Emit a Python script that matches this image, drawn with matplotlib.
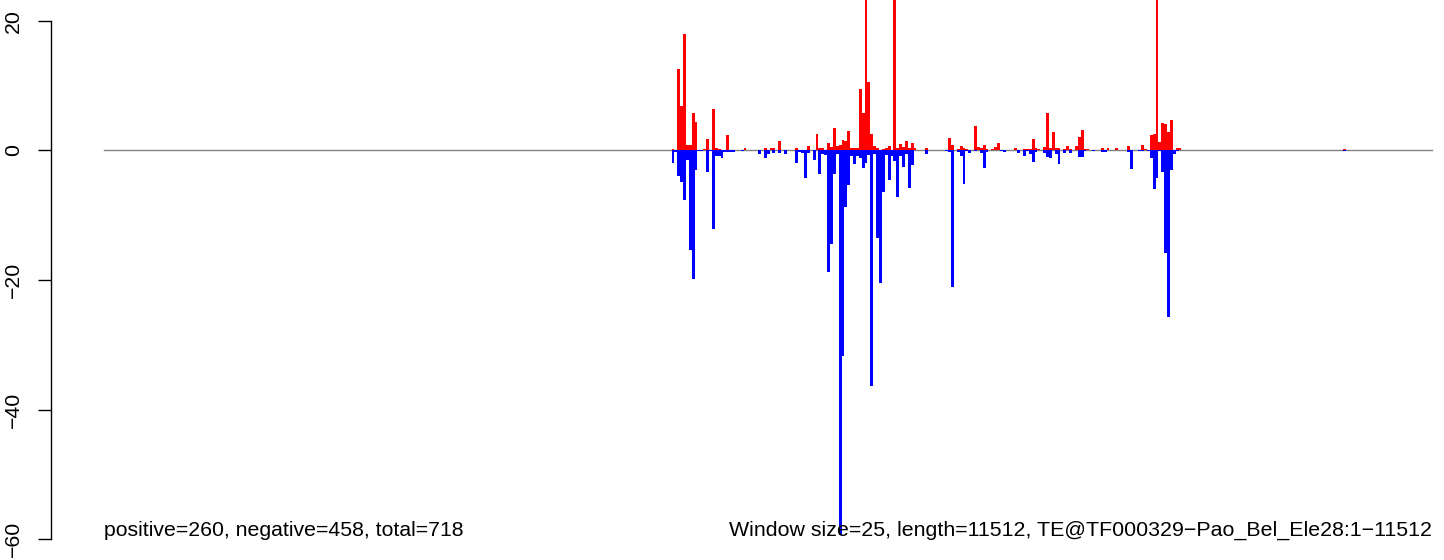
import numpy as np
import matplotlib.pyplot as plt

plt.rcParams['font.family'] = ['Liberation Sans', 'DejaVu Sans']

# window index (25 bp windows), positive-strand and negative-strand counts
window = [197, 198, 199, 200, 201, 202, 203, 204, 205, 206, 207, 208, 209, 210,
          211, 212, 213, 214, 215, 216, 217, 218, 221, 222, 223, 227, 228, 229,
          230, 231, 232, 233, 234, 235, 236, 240, 241, 242, 243, 244, 245, 246,
          247, 248, 249, 250, 251, 252, 253, 254, 255, 256, 257, 258, 259, 260,
          261, 262, 263, 264, 265, 266, 267, 268, 269, 270, 271, 272, 273, 274,
          275, 276, 277, 278, 279, 280, 281, 285, 292, 293, 294, 296, 297, 298,
          299, 300, 302, 303, 304, 305, 306, 308, 309, 310, 311, 312, 313, 314,
          316, 317, 319, 320, 321, 322, 323, 324, 326, 327, 328, 329, 330, 331,
          333, 334, 335, 337, 338, 339, 340, 341, 343, 346, 347, 348, 351, 354,
          355, 356, 359, 360, 361, 362, 363, 364, 365, 366, 367, 368, 369, 370,
          371, 372, 373, 430]
pos = [0.2, 0, 12.5, 6.8, 18.0, 0.9, 0.8, 5.8, 4.4, 0, 0, 0.15, 1.8, 0,
       6.4, 0.3, 0.2, 0, 0, 2.3, 0, 0, 0, 0.3, 0.1, 0, 0.1, 0.3,
       0, 0.4, 0.3, 0.1, 1.5, 0.1, 0, 0.3, 0, 0, 0.1, 0.7, 0.1, 0.1,
       2.6, 0.4, 0.4, 0.1, 1.1, 0.5, 3.4, 0.7, 0.8, 1.6, 1.5, 3.0, 0.3, 0.4,
       0.4, 9.5, 5.7, 31, 10.6, 2.6, 0.7, 0.3, 0.1, 0.2, 0.4, 0.7, 0.1, 27,
       0.3, 1.0, 0.5, 1.4, 0.4, 1.1, 0.3, 0.4, 0, 1.9, 0.9, 0.15, 0.7, 0.3,
       0.2, 0, 3.8, 0.5, 0.3, 0.8, 0.2, 0.2, 0.5, 1.1, 0, 0, 0.1, 0.1,
       0.3, 0, 0.15, 0.15, 0.15, 1.7, 0.3, 0.15, 0.5, 5.7, 0.3, 2.9, 0.3, 0.3,
       0.15, 0.6, 0.15, 0.6, 2.0, 3.1, 0.15, 0.15, 0, 0.4, 0, 0.4, 0.3, 0.1,
       0.7, 0, 0.1, 0.9, 0.2, 0, 2.3, 2.6, 38, 1.3, 4.3, 4.1, 2.9, 4.7,
       0, 0.3, 0.3, 0.15]
neg = [-2.0, -0.2, -4.0, -4.9, -7.6, -1.5, -15.3, -19.9, -3.1, -0.15, -0.15, 0, -3.4, -0.15,
       -12.1, -0.8, -0.9, -1.1, -0.3, -0.3, -0.2, -0.2, -0.15, 0, 0, -0.6, 0, -1.2,
       -0.5, 0, -0.4, 0, -0.4, 0, -0.6, -2.0, -0.2, -0.4, -4.2, -0.4, 0, -1.5,
       0, -3.6, -0.5, -0.7, -18.7, -14.5, -3.6, -0.5, -59.3, -31.8, -8.7, -5.3, -0.8, -2.1,
       -0.8, -1.2, -2.7, -1.9, -0.7, -36.3, -0.5, -13.5, -20.4, -6.4, -0.7, -4.6, -0.8, -1.6,
       -7.2, -0.8, -2.6, -0.5, -5.8, -2.2, 0, -0.5, -0.1, -0.2, -21.1, -0.3, -0.8, -5.2,
       -0.1, -0.4, -0.1, 0, -0.4, -2.7, -0.2, 0, 0, 0, -0.15, -0.3, 0, 0,
       0, -0.4, -0.9, -0.15, -0.6, -1.8, -0.2, 0, -0.4, -1.0, -1.2, 0, -0.6, -2.1,
       -0.4, 0, -0.4, 0, -1.0, -1.0, -0.1, 0, -0.05, -0.3, -0.3, 0, 0, 0,
       -0.3, -2.8, -0.15, -0.15, 0, -0.15, -1.1, -5.9, -4.2, -0.15, -3.4, -15.8, -25.7, -3.1,
       -0.6, -0.15, 0, -0.05]

n_windows = 461
left_text = "positive=260, negative=458, total=718"
right_text = "Window size=25, length=11512, TE@TF000329\u2212Pao_Bel_Ele28:1\u221211512"
yticks = [-60, -40, -20, 0, 20]
ytick_labels = ["\u221260", "\u221240", "\u221220", "0", "20"]

x = np.array(window) + 0.5

fig = plt.figure(figsize=(14.44, 5.6), dpi=100)
ax = fig.add_axes([51 / 1444, 0, 1 - 51 / 1444, 1])

ax.plot([0, n_windows], [0, 0], color='gray', lw=1, zorder=1)
ax.bar(x, pos, width=1.0, color='#ff0000', linewidth=0, zorder=2)
ax.bar(x, neg, width=1.0, color='#0000ff', linewidth=0, zorder=2)

ax.set_xlim((51 - 104) / 2.881, (1444 - 104) / 2.881)
ax.set_ylim(-63.2, 23.2)

for s in ['top', 'right', 'bottom']:
    ax.spines[s].set_visible(False)
ax.spines['left'].set_bounds(-60, 20)
ax.spines['left'].set_linewidth(1.0)
ax.set_xticks([])
ax.set_yticks(yticks)
ax.set_yticklabels(ytick_labels, rotation=90, va='center')
ax.tick_params(axis='y', length=9.4, width=1.0, pad=11, labelsize=15.3)

ax.text(0, -59.5, left_text, ha='left', va='baseline', fontsize=15.3)
ax.text(n_windows, -59.5, right_text, ha='right', va='baseline', fontsize=15.4)

fig.savefig('out.png', dpi=100)
